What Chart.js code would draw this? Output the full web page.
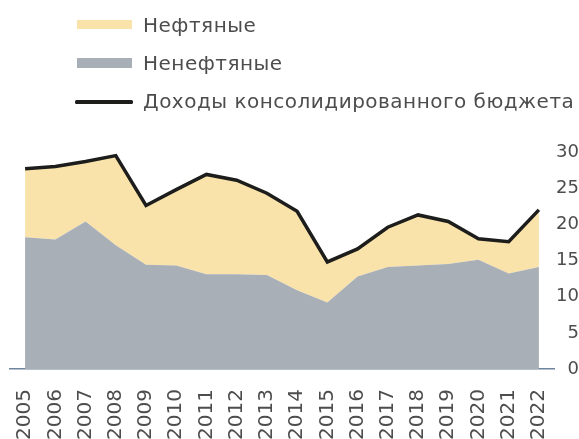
<!DOCTYPE html>
<html>
<head>
<meta charset="utf-8">
<script src="https://cdn.jsdelivr.net/npm/chart.js@4"></script>
<style>
  html, body { margin: 0; padding: 0; background: #fff; }
  #wrap { position: relative; width: 579px; height: 439px; overflow: hidden; }
  canvas { position: absolute; left: 0; top: 0; }
  .lg { position: absolute; left: 0; top: 0; font-family: "DejaVu Sans", sans-serif; font-size: 20px; line-height: 20px; letter-spacing: 0.5px; color: #4d4d4d; white-space: nowrap; }
  .sw { position: absolute; }
</style>
</head>
<body>
<div id="wrap">
  <canvas id="c" width="579" height="439"></canvas>
  <div class="sw" style="left:77px;top:20px;width:55px;height:9px;background:#f9e3ab"></div>
  <div class="lg" style="left:143px;top:14.8px">Нефтяные</div>
  <div class="sw" style="left:77px;top:58px;width:55px;height:10px;background:#a9afb6"></div>
  <div class="lg" style="left:143px;top:53.3px">Ненефтяные</div>
  <div class="sw" style="left:75px;top:100px;width:58px;height:3.5px;background:#1d1d1b;border-radius:1.5px"></div>
  <div class="lg" style="left:143px;top:91.3px">Доходы консолидированного бюджета</div>
</div>
<script>
const years = ["2005","2006","2007","2008","2009","2010","2011","2012","2013","2014","2015","2016","2017","2018","2019","2020","2021","2022"];
const nonOil = [18.2, 17.9, 20.4, 17.1, 14.4, 14.3, 13.1, 13.1, 13.0, 10.9, 9.2, 12.8, 14.1, 14.3, 14.5, 15.1, 13.2, 14.1];
const oil    = [9.5, 10.1, 8.3, 12.4, 8.2, 10.5, 13.8, 13.0, 11.3, 10.9, 5.6, 3.8, 5.5, 7.0, 5.9, 2.9, 4.4, 7.9];
const total  = [27.7, 28.0, 28.7, 29.5, 22.6, 24.8, 26.9, 26.1, 24.3, 21.8, 14.8, 16.6, 19.6, 21.3, 20.4, 18.0, 17.6, 22.0];
const yTicks = [0, 5, 10, 15, 20, 25, 30];

new Chart(document.getElementById('c'), {
  type: 'line',
  data: {
    labels: years,
    datasets: [
      { label: 'Доходы консолидированного бюджета', data: total, stack: 'b',
        borderColor: '#1d1d1b', borderWidth: 3.5, fill: false, pointRadius: 0, tension: 0 },
      { label: 'Ненефтяные', data: nonOil, stack: 'a',
        backgroundColor: '#a9afb6', borderWidth: 0, borderColor: 'rgba(0,0,0,0)', fill: 'origin', pointRadius: 0, tension: 0 },
      { label: 'Нефтяные', data: oil, stack: 'a',
        backgroundColor: '#f9e3ab', borderWidth: 0, borderColor: 'rgba(0,0,0,0)', fill: '-1', pointRadius: 0, tension: 0 }
    ]
  },
  options: {
    responsive: false,
    animation: false,
    layout: { padding: { left: 10, right: 0, top: 152, bottom: 0 } },
    plugins: { legend: { display: false }, tooltip: { enabled: false } },
    scales: {
      x: {
        offset: true,
        grid: { display: false, drawTicks: false },
        border: { display: true, color: '#6e849c', width: 1.5 },
        ticks: { autoSkip: false, maxRotation: 90, minRotation: 90, padding: 20,
                 color: '#4d4d4d', font: { family: 'DejaVu Sans', size: 20 } },
        afterFit: s => { s.height = 70; s.paddingRight = 0; s.paddingLeft = 0; }
      },
      y: {
        position: 'right',
        stacked: true,
        min: 0, max: 30,
        afterBuildTicks: s => { s.ticks = yTicks.map(v => ({ value: v })); },
        grid: { display: false, drawTicks: false },
        border: { display: false },
        ticks: { padding: -6, crossAlign: 'far', color: '#4d4d4d', font: { family: 'DejaVu Sans', size: 18 } },
        afterFit: s => { s.width = 25; }
      }
    }
  }
});
</script>
</body>
</html>
